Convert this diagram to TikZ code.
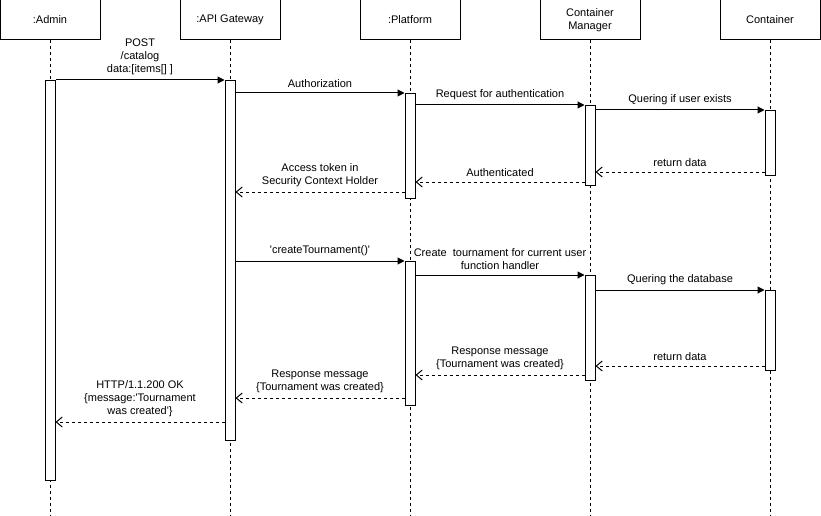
\documentclass[tikz,border=0pt]{standalone}
\usepackage{fontspec}
\setmainfont{Liberation Sans}
\usetikzlibrary{positioning,arrows.meta}

\tikzset{
    head/.style={draw,minimum width=100pt,minimum height=40pt,align=center,inner sep=0pt,font=\fontsize{11}{13}\selectfont},
    act/.style={draw,fill=white,minimum width=10pt,inner sep=0pt,anchor=north},
    life/.style={dash pattern=on 3pt off 3pt},
    call/.style={-{Triangle[length=7pt,width=7pt]}},
    reply/.style={dash pattern=on 3pt off 3pt,-{Straight Barb[length=6pt,width=10pt]}},
    lbl/.style={font=\fontsize{11}{13}\selectfont,align=center,inner sep=1pt,above=4pt}
}

\begin{document}
\begin{tikzpicture}[x=1pt,y=-1pt,line width=1pt]
        \useasboundingbox (0,0) rectangle (821,516);

        % participants
        \node[head] (admin) at (50,20) {:Admin};
        \node[head] (gateway) at (230,20) {:API Gateway};
        \node[head] (platform) at (410,20) {:Platform};
        \node[head] (manager) at (590,20) {Container\\Manager};
        \node[head] (container) at (770,20) {Container};

        % lifelines
        \foreach \p in {admin,gateway,platform,manager,container} {
            \draw[life] (\p.south) -- (\p.south |- 0,516);
        }

        % activations
        \node[act,minimum height=400pt] (adminAct) at (50,80) {};
        \node[act,minimum height=360pt] (gatewayAct) at (230,80) {};
        \node[act,minimum height=105pt] (platAct1) at (410,93) {};
        \node[act,minimum height=144pt] (platAct2) at (410,261) {};
        \node[act,minimum height=80pt] (mgrAct1) at (590,105) {};
        \node[act,minimum height=105pt] (mgrAct2) at (590,275) {};
        \node[act,minimum height=65pt] (contAct1) at (770,110) {};
        \node[act,minimum height=80pt] (contAct2) at (770,290) {};

        % authentication
        \draw[call] (adminAct.east |- 0,80) -- node[lbl] {POST\\/catalog\\data:[items[] ]} (gatewayAct.west |- 0,80);
        \draw[call] (gatewayAct.east |- 0,93) -- node[lbl] {Authorization} (platAct1.west |- 0,93);
        \draw[call] (platAct1.east |- 0,105) -- node[lbl] {Request for authentication} (mgrAct1.west |- 0,105);
        \draw[call] (mgrAct1.east |- 0,110) -- node[lbl] {Quering if user exists} (contAct1.west |- 0,110);
        \draw[reply] (contAct1.west |- 0,172) -- node[lbl] {return data} (mgrAct1.east |- 0,172);
        \draw[reply] (mgrAct1.west |- 0,182) -- node[lbl] {Authenticated} (platAct1.east |- 0,182);
        \draw[reply] (platAct1.west |- 0,192) -- node[lbl] {Access token in\\Security Context Holder} (gatewayAct.east |- 0,192);

        % tournament creation
        \draw[call] (gatewayAct.east |- 0,261) -- node[lbl] {\textquotesingle createTournament()\textquotesingle} (platAct2.west |- 0,261);
        \draw[call] (platAct2.east |- 0,275) -- node[lbl] {Create\ \ tournament for current user\\function handler} (mgrAct2.west |- 0,275);
        \draw[call] (mgrAct2.east |- 0,290) -- node[lbl] {Quering the database} (contAct2.west |- 0,290);
        \draw[reply] (contAct2.west |- 0,366) -- node[lbl] {return data} (mgrAct2.east |- 0,366);
        \draw[reply] (mgrAct2.west |- 0,375) -- node[lbl] {Response message\\\{Tournament was created\}} (platAct2.east |- 0,375);
        \draw[reply] (platAct2.west |- 0,398) -- node[lbl] {Response message\\\{Tournament was created\}} (gatewayAct.east |- 0,398);
        \draw[reply] (gatewayAct.west |- 0,422) -- node[lbl] {HTTP/1.1.200 OK\\\{message:\textquotesingle Tournament\\was created\textquotesingle\}} (adminAct.east |- 0,422);
\end{tikzpicture}
\end{document}
